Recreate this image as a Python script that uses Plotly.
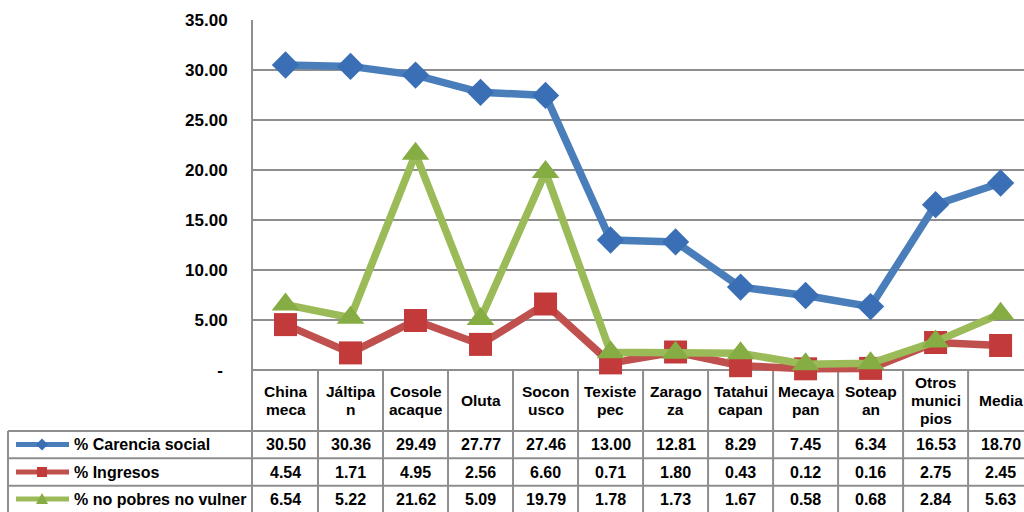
import plotly.graph_objects as go

# ---------------- data ----------------
categories = ["Chinameca", "Jáltipan", "Cosoleacaque", "Oluta", "Soconusco", "Texistepec",
              "Zaragoza", "Tatahuicapan", "Mecayapan", "Soteapan", "Otros municipios", "Media"]
header_lines = [["China", "meca"], ["Jáltipa", "n"], ["Cosole", "acaque"], ["Oluta"],
                ["Socon", "usco"], ["Texiste", "pec"], ["Zarago", "za"], ["Tatahui", "capan"],
                ["Mecaya", "pan"], ["Soteap", "an"], ["Otros", "munici", "pios"], ["Media"]]
series_names = ["% Carencia social", "% Ingresos", "% no pobres no vulner"]
carencia = [30.50, 30.36, 29.49, 27.77, 27.46, 13.00, 12.81, 8.29, 7.45, 6.34, 16.53, 18.70]
ingresos = [4.54, 1.71, 4.95, 2.56, 6.60, 0.71, 1.80, 0.43, 0.12, 0.16, 2.75, 2.45]
no_pobres = [6.54, 5.22, 21.62, 5.09, 19.79, 1.78, 1.73, 1.67, 0.58, 0.68, 2.84, 5.63]
y_tickvals = [0, 5, 10, 15, 20, 25, 30, 35]
y_ticktext = ["-\u00a0", "5.00", "10.00", "15.00", "20.00", "25.00", "30.00", "35.00"]

series = [carencia, ingresos, no_pobres]
line_colors = ["#4A7EBB", "#C0504D", "#9BBB59"]
marker_colors = ["#3A6FB5", "#C23B3A", "#86AC44"]
symbols = ["diamond", "square", "triangle-up"]
marker_sizes = [21, 23, 24]

FONT = "Arial, Liberation Sans, sans-serif"
GRID = "#8E8E8E"

# layout geometry (pixels)
W, H = 1024, 512
L, T = 253, 20
plot_w = W - L
Y_BOTTOM = -14.2          # table extends below the value axis
HEADER_BOTTOM = -6.1
ROW_LINES = [-8.83, -11.57]
ROW_CENTERS = [-7.45, -10.2, -12.9]


def px_to_paper(px):
    return (px - L) / plot_w


fig = go.Figure()
for name, vals, lc, mc, sym, ms in zip(series_names, series, line_colors, marker_colors, symbols, marker_sizes):
    fig.add_trace(go.Scatter(
        x=categories, y=vals, name=name, mode="lines+markers",
        line=dict(color=lc, width=7.5),
        marker=dict(symbol=sym, size=ms, color=mc, line=dict(width=0)),
        cliponaxis=False, showlegend=False,
    ))

shapes = []
annotations = []

# vertical dividers of table columns
for k in range(len(categories)):
    shapes.append(dict(type="line", xref="x", yref="y", x0=k + 0.5, x1=k + 0.5,
                       y0=0, y1=Y_BOTTOM, line=dict(color=GRID, width=2), layer="below"))
# legend column left border
shapes.append(dict(type="line", xref="paper", yref="y", x0=px_to_paper(8), x1=px_to_paper(8),
                   y0=HEADER_BOTTOM, y1=Y_BOTTOM, line=dict(color=GRID, width=2)))
# horizontal row lines
for yl in [HEADER_BOTTOM] + ROW_LINES:
    shapes.append(dict(type="line", xref="paper", yref="y", x0=px_to_paper(8), x1=1,
                       y0=yl, y1=yl, line=dict(color=GRID, width=2)))

# header category labels
LINE_H = 1.8
for k, lines in enumerate(header_lines):
    n = len(lines)
    center = HEADER_BOTTOM / 2
    for i, txt in enumerate(lines):
        yy = center + ((n - 1) / 2 - i) * LINE_H
        annotations.append(dict(x=k, y=yy, xref="x", yref="y", text=txt, showarrow=False,
                                xanchor="center", yanchor="middle",
                                font=dict(family=FONT, size=15.5, color="black", weight="bold")))

# values
for r, vals in enumerate(series):
    for k, v in enumerate(vals):
        annotations.append(dict(x=k, y=ROW_CENTERS[r], xref="x", yref="y", text=f"{v:.2f}",
                                showarrow=False, xanchor="center", yanchor="middle",
                                font=dict(family=FONT, size=16, color="black", weight="bold")))

# legend keys in table
marker_paths = [
    "M0,-6 L6,0 L0,6 L-6,0 Z",
    "M-5,-5 L5,-5 L5,5 L-5,5 Z",
    "M-6,-5 L6,-5 L0,6 Z",
]
for r, name in enumerate(series_names):
    yc = ROW_CENTERS[r]
    shapes.append(dict(type="line", xref="paper", yref="y", x0=px_to_paper(16), x1=px_to_paper(69),
                       y0=yc, y1=yc, line=dict(color=line_colors[r], width=5)))
    shapes.append(dict(type="path", xref="paper", yref="y", xsizemode="pixel", ysizemode="pixel",
                       xanchor=px_to_paper(42), yanchor=yc, path=marker_paths[r],
                       fillcolor=marker_colors[r], line=dict(width=0)))
    annotations.append(dict(x=px_to_paper(72), y=yc, xref="paper", yref="y", text=name,
                            showarrow=False, xanchor="left", yanchor="middle",
                            font=dict(family=FONT, size=16, color="black", weight="bold")))

fig.update_layout(
    width=W, height=H,
    margin=dict(l=L, r=0, t=T, b=0, pad=0),
    paper_bgcolor="white", plot_bgcolor="white",
    showlegend=False,
    shapes=shapes, annotations=annotations,
    xaxis=dict(type="category", range=[-0.5, 11.36], showticklabels=False, showgrid=False,
               zeroline=False, showline=False, ticks=""),
    yaxis=dict(range=[Y_BOTTOM, 35], tickvals=y_tickvals, ticktext=y_ticktext,
               showgrid=True, gridcolor=GRID, gridwidth=1.5, zeroline=False,
               showline=True, linecolor=GRID, linewidth=2, ticks="",
               ticklabelstandoff=20,
               tickfont=dict(family=FONT, size=17, color="black", weight="bold")),
)

fig.write_html("out.html",
               config={"displayModeBar": False},
               post_script="document.body.style.margin='0';document.body.style.overflow='hidden';")
